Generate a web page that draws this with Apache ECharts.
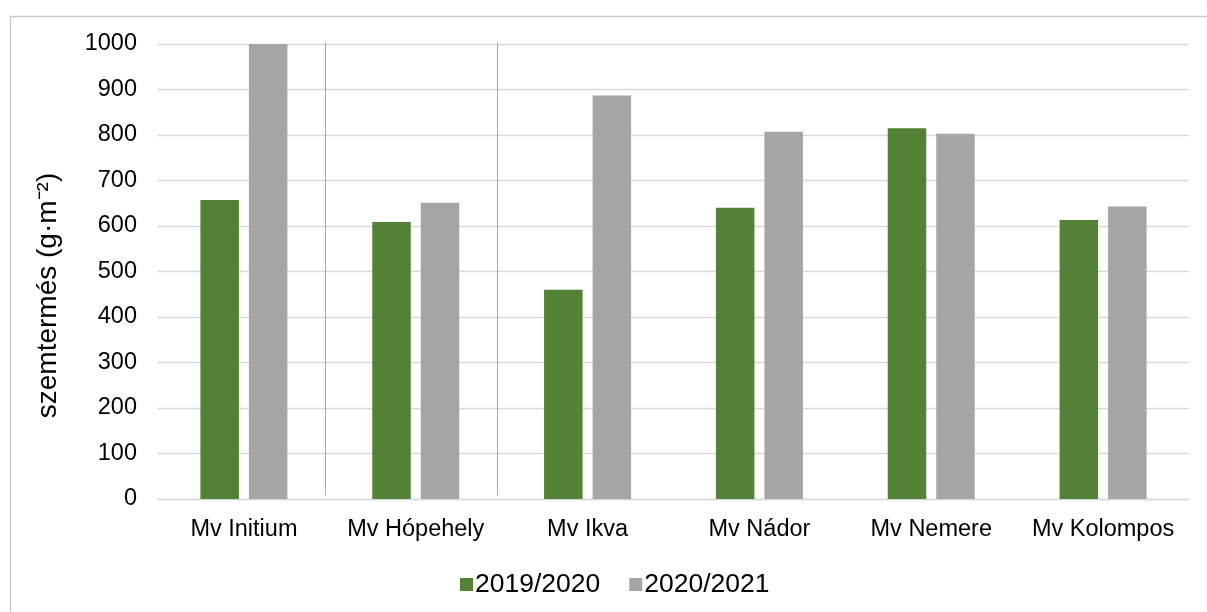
<!DOCTYPE html>
<html>
<head>
<meta charset="utf-8">
<script src="https://cdn.jsdelivr.net/npm/echarts@6/dist/echarts.min.js"></script>
<style>
html,body{margin:0;padding:0;background:#fff;}
#chart{width:1207px;height:612px;}
</style>
</head>
<body>
<div id="chart"></div>
<script>
const categories = ['Mv Initium', 'Mv Hópehely', 'Mv Ikva', 'Mv Nádor', 'Mv Nemere', 'Mv Kolompos'];
const seriesNames = ['2019/2020', '2020/2021'];
const values2019 = [657, 609, 460, 640, 815, 613];
const values2020 = [1000, 651, 887, 807, 803, 643];
const separatorAfter = [0, 1];
const yTicks = { min: 0, max: 1000, interval: 100 };
const yAxisTitle = 'szemtermés (g·m⁻²)';

const FONT = '"Liberation Sans", Arial, sans-serif';
const chart = echarts.init(document.getElementById('chart'));
chart.setOption({
  backgroundColor: '#fff',
  animation: false,
  textStyle: { fontFamily: FONT },
  graphic: [{
    type: 'rect', left: 8, top: 14, silent: true,
    shape: { width: 1300, height: 700 },
    style: { fill: 'none', stroke: '#c9c9c9', lineWidth: 1.3 }
  }],
  grid: { left: 158, right: 18, top: 44, bottom: 113, containLabel: false },
  legend: {
    left: 455, top: 566,
    itemWidth: 13, itemHeight: 13, itemGap: 29,
    icon: 'rect',
    textStyle: { fontSize: 26.5, color: '#000', fontFamily: FONT, padding: [0, 0, 0, -3] },
    data: seriesNames
  },
  xAxis: {
    type: 'category',
    data: categories,
    axisLine: { show: true, lineStyle: { color: '#d9d9d9', width: 1.3 } },
    axisTick: { show: false },
    axisLabel: { interval: 0, fontSize: 23.5, color: '#000', fontFamily: FONT, margin: 19 },
    splitLine: { show: false }
  },
  yAxis: {
    type: 'value',
    min: yTicks.min, max: yTicks.max, interval: yTicks.interval,
    name: yAxisTitle,
    nameLocation: 'middle',
    nameGap: 96,
    nameRotate: 90,
    nameTextStyle: { fontSize: 28, color: '#000', fontFamily: FONT, padding: [0, 48, 0, 0] },
    axisLine: { show: false },
    axisTick: { show: false },
    axisLabel: { fontSize: 23.5, color: '#000', fontFamily: FONT, margin: 21, formatter: function (v) { return String(v); } },
    splitLine: { lineStyle: { color: '#d9d9d9', width: 1.3 } }
  },
  series: [
    {
      name: seriesNames[0], type: 'bar', data: values2019,
      barWidth: 38.5, barGap: '26%',
      itemStyle: { color: '#538135' }
    },
    {
      name: seriesNames[1], type: 'bar', data: values2020,
      barWidth: 38.5, barGap: '26%',
      itemStyle: { color: '#a5a5a5' }
    },
    {
      type: 'custom',
      silent: true,
      data: separatorAfter,
      encode: { x: 0 },
      z: 1,
      renderItem: function (params, api) {
        const idx = api.value(0);
        const band = api.size([1, 0])[0];
        const x = api.coord([idx, 0])[0] + band / 2 - 5;
        const yTop = api.coord([idx, 1004])[1];
        const yBot = api.coord([idx, 8])[1];
        return {
          type: 'line',
          shape: { x1: Math.round(x) + 0.5, y1: yTop, x2: Math.round(x) + 0.5, y2: yBot },
          style: { stroke: '#a6a6a6', lineWidth: 1 }
        };
      }
    }
  ]
});
</script>
</body>
</html>
